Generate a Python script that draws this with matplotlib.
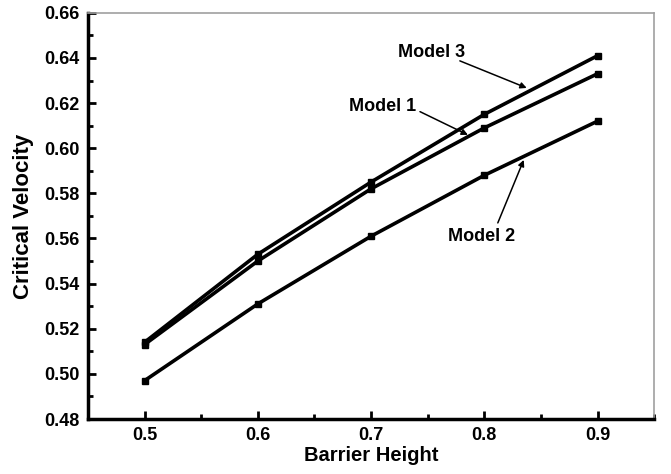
import matplotlib
matplotlib.use("Agg")
import matplotlib.pyplot as plt
from matplotlib.ticker import MultipleLocator

barrier = [0.5, 0.6, 0.7, 0.8, 0.9]
model1 = [0.513, 0.550, 0.582, 0.609, 0.633]
model2 = [0.497, 0.531, 0.561, 0.588, 0.612]
model3 = [0.514, 0.553, 0.585, 0.615, 0.641]

plt.rcParams['font.family'] = ['Liberation Sans', 'DejaVu Sans']
plt.rcParams['font.weight'] = 'bold'

fig = plt.figure(figsize=(6.71, 4.74), dpi=100)
ax = fig.add_axes([0.131, 0.116, 0.844, 0.857])

for ys in (model3, model1, model2):
    ax.plot(barrier, ys, color='k', lw=2.6, marker='s', ms=4.8)

ax.set_xlim(0.45, 0.95)
ax.set_ylim(0.48, 0.66)
ax.xaxis.set_minor_locator(MultipleLocator(0.05))
ax.yaxis.set_minor_locator(MultipleLocator(0.01))
yt = [0.48, 0.50, 0.52, 0.54, 0.56, 0.58, 0.60, 0.62, 0.64, 0.66]
ax.set_yticks(yt)
ax.set_yticklabels(['%.2f' % v for v in yt])
ax.set_xticks(barrier)
ax.set_xticklabels(['%.1f' % v for v in barrier])
ax.tick_params(which='both', direction='in', width=2, labelsize=13, top=False, right=False)
ax.tick_params(which='major', length=6, pad=6)
ax.tick_params(which='minor', length=3.5)

for s in ('left', 'bottom'):
    ax.spines[s].set_linewidth(2.5)
for s in ('top', 'right'):
    ax.spines[s].set_linewidth(1.2)
    ax.spines[s].set_color('#a0a0a0')

ax.set_xlabel('Barrier Height', fontsize=14.5, fontweight='bold', labelpad=1)
ax.set_ylabel('Critical Velocity', fontsize=16, fontweight='bold', labelpad=7)

arrow = dict(arrowstyle='-|>', lw=1.1, color='k', mutation_scale=9, shrinkA=0, shrinkB=0)
ax.annotate('', xy=(0.8374, 0.6267), xytext=(0.7784, 0.6387), arrowprops=arrow)
ax.text(0.7537, 0.6423, 'Model 3', ha='center', va='center', fontsize=13, fontweight='bold')
ax.annotate('', xy=(0.7855, 0.6059), xytext=(0.7432, 0.6162), arrowprops=arrow)
ax.text(0.7101, 0.6183, 'Model 1', ha='center', va='center', fontsize=13, fontweight='bold')
ax.annotate('', xy=(0.8348, 0.5948), xytext=(0.8119, 0.5669), arrowprops=arrow)
ax.text(0.7978, 0.5607, 'Model 2', ha='center', va='center', fontsize=13, fontweight='bold')

fig.savefig('out.png', dpi=100)
